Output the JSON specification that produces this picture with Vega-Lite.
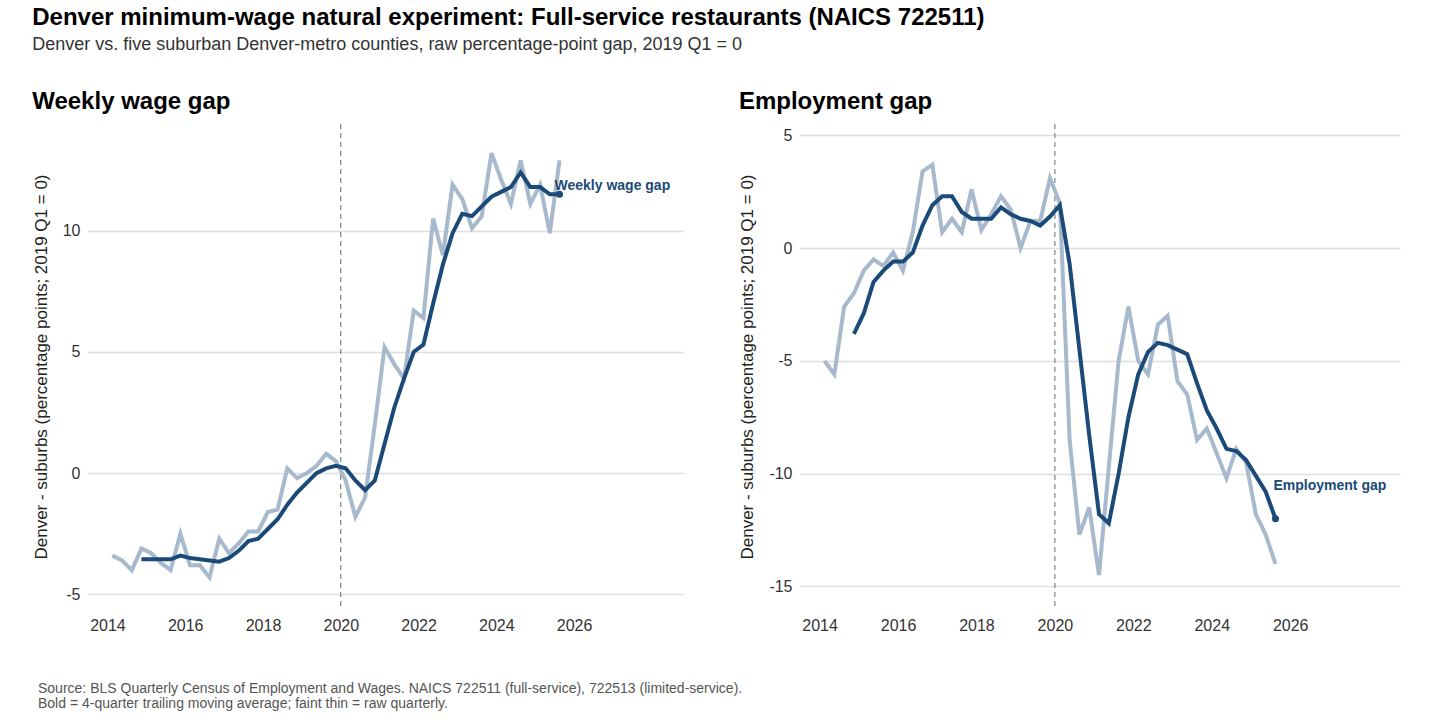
{
  "$schema": "https://vega.github.io/schema/vega-lite/v6.json",
  "padding": {"left": 32, "top": 5, "right": 10, "bottom": 5},
  "title": {
    "text": "Denver minimum-wage natural experiment: Full-service restaurants (NAICS 722511)",
    "subtitle": "Denver vs. five suburban Denver-metro counties, raw percentage-point gap, 2019 Q1 = 0",
    "anchor": "start", "fontSize": 24, "subtitleFontSize": 18, "font": "Liberation Sans",
    "subtitleFont": "Liberation Sans", "subtitleColor": "#333", "offset": 36, "subtitlePadding": 6
  },
  "datasets": {
    "wage": [
      {"t": 2014.125, "raw": -3.4, "ma": null}, {"t": 2014.375, "raw": -3.6, "ma": null}, {"t": 2014.625, "raw": -4.0, "ma": null}, {"t": 2014.875, "raw": -3.1, "ma": -3.55},
      {"t": 2015.125, "raw": -3.3, "ma": -3.55}, {"t": 2015.375, "raw": -3.7, "ma": -3.55}, {"t": 2015.625, "raw": -4.0, "ma": -3.55}, {"t": 2015.875, "raw": -2.5, "ma": -3.4},
      {"t": 2016.125, "raw": -3.8, "ma": -3.5}, {"t": 2016.375, "raw": -3.8, "ma": -3.55}, {"t": 2016.625, "raw": -4.3, "ma": -3.6}, {"t": 2016.875, "raw": -2.7, "ma": -3.65},
      {"t": 2017.125, "raw": -3.3, "ma": -3.5}, {"t": 2017.375, "raw": -2.9, "ma": -3.2}, {"t": 2017.625, "raw": -2.4, "ma": -2.8}, {"t": 2017.875, "raw": -2.4, "ma": -2.7},
      {"t": 2018.125, "raw": -1.6, "ma": -2.3}, {"t": 2018.375, "raw": -1.5, "ma": -1.9}, {"t": 2018.625, "raw": 0.2, "ma": -1.3}, {"t": 2018.875, "raw": -0.2, "ma": -0.8},
      {"t": 2019.125, "raw": 0.0, "ma": -0.4}, {"t": 2019.375, "raw": 0.3, "ma": 0.0}, {"t": 2019.625, "raw": 0.8, "ma": 0.2}, {"t": 2019.875, "raw": 0.5, "ma": 0.3},
      {"t": 2020.125, "raw": -0.3, "ma": 0.2}, {"t": 2020.375, "raw": -1.8, "ma": -0.3}, {"t": 2020.625, "raw": -1.0, "ma": -0.7}, {"t": 2020.875, "raw": 2.0, "ma": -0.3},
      {"t": 2021.125, "raw": 5.2, "ma": 1.2}, {"t": 2021.375, "raw": 4.5, "ma": 2.7}, {"t": 2021.625, "raw": 3.9, "ma": 3.9}, {"t": 2021.875, "raw": 6.7, "ma": 5.0},
      {"t": 2022.125, "raw": 6.4, "ma": 5.3}, {"t": 2022.375, "raw": 10.5, "ma": 7.0}, {"t": 2022.625, "raw": 9.0, "ma": 8.6}, {"t": 2022.875, "raw": 11.9, "ma": 9.9},
      {"t": 2023.125, "raw": 11.3, "ma": 10.7}, {"t": 2023.375, "raw": 10.1, "ma": 10.6}, {"t": 2023.625, "raw": 10.6, "ma": 11.0}, {"t": 2023.875, "raw": 13.2, "ma": 11.4},
      {"t": 2024.125, "raw": 12.1, "ma": 11.6}, {"t": 2024.375, "raw": 11.1, "ma": 11.8}, {"t": 2024.625, "raw": 12.9, "ma": 12.4}, {"t": 2024.875, "raw": 11.1, "ma": 11.8},
      {"t": 2025.125, "raw": 11.9, "ma": 11.8}, {"t": 2025.375, "raw": 9.9, "ma": 11.5}, {"t": 2025.625, "raw": 12.9, "ma": 11.5, "label": "Weekly wage gap"}
    ],
    "emp": [
      {"t": 2014.125, "raw": -5.0, "ma": null}, {"t": 2014.375, "raw": -5.6, "ma": null}, {"t": 2014.625, "raw": -2.6, "ma": null}, {"t": 2014.875, "raw": -2.0, "ma": -3.8},
      {"t": 2015.125, "raw": -1.0, "ma": -2.9}, {"t": 2015.375, "raw": -0.5, "ma": -1.5}, {"t": 2015.625, "raw": -0.8, "ma": -1.0}, {"t": 2015.875, "raw": -0.2, "ma": -0.6},
      {"t": 2016.125, "raw": -1.0, "ma": -0.6}, {"t": 2016.375, "raw": 0.7, "ma": -0.2}, {"t": 2016.625, "raw": 3.4, "ma": 1.0}, {"t": 2016.875, "raw": 3.7, "ma": 1.9},
      {"t": 2017.125, "raw": 0.7, "ma": 2.3}, {"t": 2017.375, "raw": 1.3, "ma": 2.3}, {"t": 2017.625, "raw": 0.7, "ma": 1.6}, {"t": 2017.875, "raw": 2.6, "ma": 1.3},
      {"t": 2018.125, "raw": 0.8, "ma": 1.3}, {"t": 2018.375, "raw": 1.5, "ma": 1.3}, {"t": 2018.625, "raw": 2.3, "ma": 1.8}, {"t": 2018.875, "raw": 1.7, "ma": 1.5},
      {"t": 2019.125, "raw": 0.0, "ma": 1.3}, {"t": 2019.375, "raw": 1.2, "ma": 1.2}, {"t": 2019.625, "raw": 1.2, "ma": 1.0}, {"t": 2019.875, "raw": 3.1, "ma": 1.4},
      {"t": 2020.125, "raw": 2.0, "ma": 1.9}, {"t": 2020.375, "raw": -8.5, "ma": -0.7}, {"t": 2020.625, "raw": -12.7, "ma": -4.5}, {"t": 2020.875, "raw": -11.5, "ma": -8.3},
      {"t": 2021.125, "raw": -14.5, "ma": -11.8}, {"t": 2021.375, "raw": -9.7, "ma": -12.2}, {"t": 2021.625, "raw": -5.0, "ma": -10.0}, {"t": 2021.875, "raw": -2.6, "ma": -7.5},
      {"t": 2022.125, "raw": -5.0, "ma": -5.6}, {"t": 2022.375, "raw": -5.6, "ma": -4.6}, {"t": 2022.625, "raw": -3.4, "ma": -4.2}, {"t": 2022.875, "raw": -3.0, "ma": -4.3},
      {"t": 2023.125, "raw": -5.9, "ma": -4.5}, {"t": 2023.375, "raw": -6.5, "ma": -4.7}, {"t": 2023.625, "raw": -8.5, "ma": -6.0}, {"t": 2023.875, "raw": -8.0, "ma": -7.2},
      {"t": 2024.125, "raw": -9.1, "ma": -8.0}, {"t": 2024.375, "raw": -10.2, "ma": -8.9}, {"t": 2024.625, "raw": -8.9, "ma": -9.0}, {"t": 2024.875, "raw": -9.5, "ma": -9.4},
      {"t": 2025.125, "raw": -11.8, "ma": -10.1}, {"t": 2025.375, "raw": -12.7, "ma": -10.8}, {"t": 2025.625, "raw": -14.0, "ma": -12.0, "label": "Employment gap"}
    ],
    "notes": [
      {"line": 1, "text": "Source: BLS Quarterly Census of Employment and Wages. NAICS 722511 (full-service), 722513 (limited-service)."},
      {"line": 2, "text": "Bold = 4-quarter trailing moving average; faint thin = raw quarterly."}
    ]
  },
  "vconcat": [
    {
      "hconcat": [
        {
          "title": {"text": "Weekly wage gap", "fontSize": 24, "anchor": "start", "font": "Liberation Sans", "offset": 10},
          "width": 595, "height": 485,
          "data": {"name": "wage"},
          "layer": [
            {"data": {"values": [{"v": 2020}]}, "mark": {"type": "rule", "strokeDash": [5, 4], "color": "#666"}, "encoding": {"x": {"field": "v", "type": "quantitative"}}},
            {"data": {"values": [{"v": 0}]}, "mark": {"type": "rule", "strokeDash": [5, 4], "color": "#666"}, "encoding": {"y": {"field": "v", "type": "quantitative"}}},
            {"mark": {"type": "line", "color": "#a7b9cc", "strokeWidth": 4}, "encoding": {"y": {"field": "raw", "type": "quantitative"}}},
            {"mark": {"type": "line", "color": "#1b4a78", "strokeWidth": 4}, "encoding": {"y": {"field": "ma", "type": "quantitative"}}},
            {"transform": [{"filter": "datum.label"}], "mark": {"type": "point", "filled": true, "color": "#1b4a78", "size": 50, "opacity": 1}, "encoding": {"y": {"field": "ma", "type": "quantitative"}}},
            {"transform": [{"filter": "datum.label"}], "mark": {"type": "text", "align": "left", "dx": -5, "dy": -8, "fontWeight": "bold", "fontSize": 14, "color": "#1b4a78", "font": "Liberation Sans"}, "encoding": {"y": {"field": "ma", "type": "quantitative"}, "text": {"field": "label"}}}
          ],
          "encoding": {
            "x": {"field": "t", "type": "quantitative", "title": null, "scale": {"domain": [2013.5, 2028.8], "nice": false, "zero": false},
                  "axis": {"values": [2014, 2016, 2018, 2020, 2022, 2024, 2026], "format": "d", "grid": false}},
            "y": {"type": "quantitative", "scale": {"domain": [-5.6, 14.4], "nice": false, "zero": false},
                  "axis": {"values": [-5, 0, 5, 10], "labelExpr": "replace(datum.label, '\u2212', '-')", "title": "Denver - suburbs (percentage points; 2019 Q1 = 0)"}}
          }
        },
        {
          "title": {"text": "Employment gap", "fontSize": 24, "anchor": "start", "font": "Liberation Sans", "offset": 10},
          "width": 600, "height": 485,
          "data": {"name": "emp"},
          "layer": [
            {"data": {"values": [{"v": 2020}]}, "mark": {"type": "rule", "strokeDash": [5, 4], "color": "#666"}, "encoding": {"x": {"field": "v", "type": "quantitative"}}},
            {"data": {"values": [{"v": 0}]}, "mark": {"type": "rule", "strokeDash": [5, 4], "color": "#666"}, "encoding": {"y": {"field": "v", "type": "quantitative"}}},
            {"mark": {"type": "line", "color": "#a7b9cc", "strokeWidth": 4}, "encoding": {"y": {"field": "raw", "type": "quantitative"}}},
            {"mark": {"type": "line", "color": "#1b4a78", "strokeWidth": 4}, "encoding": {"y": {"field": "ma", "type": "quantitative"}}},
            {"transform": [{"filter": "datum.label"}], "mark": {"type": "point", "filled": true, "color": "#1b4a78", "size": 50, "opacity": 1}, "encoding": {"y": {"field": "ma", "type": "quantitative"}}},
            {"transform": [{"filter": "datum.label"}], "mark": {"type": "text", "align": "left", "dx": -2, "dy": -33, "fontWeight": "bold", "fontSize": 14, "color": "#1b4a78", "font": "Liberation Sans"}, "encoding": {"y": {"field": "ma", "type": "quantitative"}, "text": {"field": "label"}}}
          ],
          "encoding": {
            "x": {"field": "t", "type": "quantitative", "title": null, "scale": {"domain": [2013.5, 2028.8], "nice": false, "zero": false},
                  "axis": {"values": [2014, 2016, 2018, 2020, 2022, 2024, 2026], "format": "d", "grid": false}},
            "y": {"type": "quantitative", "scale": {"domain": [-16, 5.5], "nice": false, "zero": false},
                  "axis": {"values": [-15, -10, -5, 0, 5], "labelExpr": "replace(datum.label, '\u2212', '-')", "title": "Denver - suburbs (percentage points; 2019 Q1 = 0)"}}
          }
        }
      ],
      "spacing": 55
    },
    {
      "width": 1300, "height": 30,
      "data": {"name": "notes"},
      "mark": {"type": "text", "align": "left", "dx": -50, "fontSize": 14, "color": "#555", "font": "Liberation Sans"},
      "encoding": {
        "x": {"value": 0},
        "y": {"field": "line", "type": "ordinal", "axis": null},
        "text": {"field": "text"}
      }
    }
  ],
  "spacing": 48,
  "config": {
    "view": {"stroke": null},
    "font": "Liberation Sans",
    "axis": {"domain": false, "ticks": false, "labelFontSize": 16, "labelColor": "#333", "titleFontSize": 17, "titleFontWeight": "normal", "titleColor": "#222", "gridColor": "#dddddd", "gridWidth": 1.5, "labelPadding": 8, "titlePadding": 12}
  }
}
